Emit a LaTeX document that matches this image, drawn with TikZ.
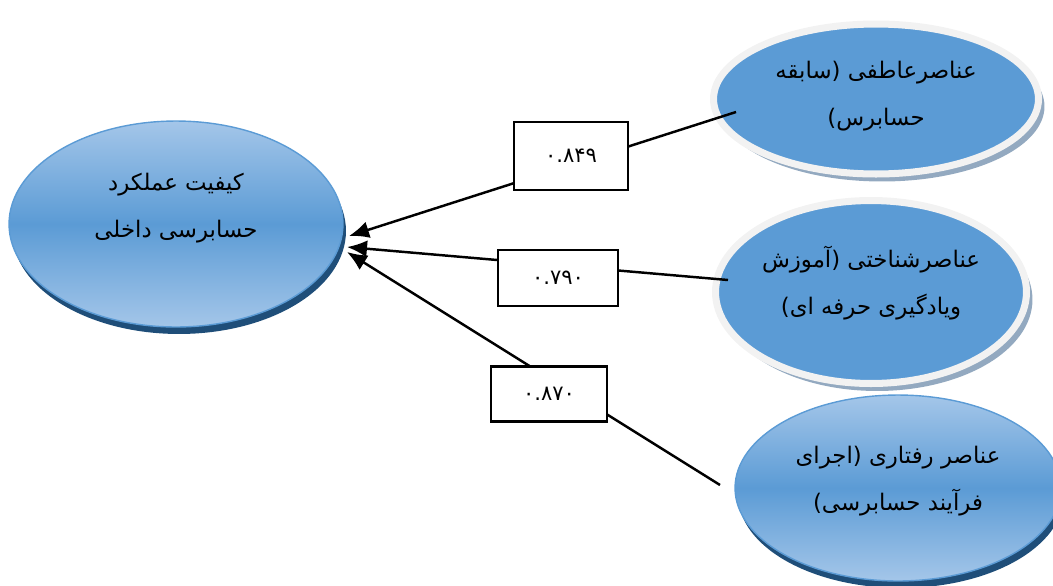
\documentclass[tikz,border=0pt]{standalone}
\usepackage{fontspec}
\usepackage{tikz}
\usetikzlibrary{shapes.geometric,arrows.meta,shadows,calc}
\TeXXeTstate=1
\newfontfamily\arabicfont[Script=Arabic]{DejaVu Sans}
\definecolor{LightBlue}{HTML}{A4C6E9}
\definecolor{MidBlue}{HTML}{5B9BD5}
\definecolor{DeepBlue}{HTML}{1F4E79}
\definecolor{RingGray}{HTML}{F2F2F2}
\definecolor{ShadeGray}{HTML}{93A9C0}

\begin{document}
\begin{tikzpicture}[x=0.02cm,y=-0.02cm,
  shaded/.style={ellipse,draw=MidBlue,line width=0.8pt,top color=LightBlue,bottom color=LightBlue,middle color=MidBlue,
    drop shadow={shadow xshift=0.06cm,shadow yshift=-0.14cm,fill=DeepBlue,opacity=1}},
  ringed/.style={ellipse,draw=RingGray,line width=4pt,fill=MidBlue,
    drop shadow={shadow xshift=0.12cm,shadow yshift=-0.15cm,fill=ShadeGray,opacity=1}},
  fa/.style={font=\arabicfont\fontsize{13}{27}\selectfont,align=center},
  valbox/.style={draw=black,line width=1.4pt,fill=white,font=\arabicfont\fontsize{12}{14}\selectfont},
  link/.style={line width=1.4pt,color=black,-{Latex[length=4mm,width=3.4mm]}}]
\clip (0,0) rectangle (1053,585);
%ellipses
\node[shaded,minimum width=6.68cm,minimum height=4.12cm] (quality) at (176,224) {};
\node[ringed,minimum width=6.5cm,minimum height=3cm] (emo) at (876,99) {};
\node[ringed,minimum width=6.22cm,minimum height=3.66cm] (cog) at (871,292) {};
\node[shaded,minimum width=6.52cm,minimum height=3.72cm] (beh) at (898,488) {};
\node[fa] (qualitytxt) at (176,208) {\beginR کیفیت عملکرد\endR\\\beginR حسابرسی داخلی\endR};
\node[fa] (emotxt) at (876,96) {\beginR عناصرعاطفی (سابقه\endR\\\beginR حسابرس)\endR};
\node[fa] (cogtxt) at (871,283) {\beginR عناصرشناختی (آموزش\endR\\\beginR ویادگیری حرفه ای)\endR};
\node[fa] (behtxt) at (898,481) {\beginR عناصر رفتاری (اجرای\endR\\\beginR فرآیند حسابرسی)\endR};
%paths
\draw[link] ($(emo)+(-140,13)$) -- ($(quality)+(173,12)$);
\draw[link] ($(cog)+(-143,-12)$) -- ($(quality)+(171,23)$);
\draw[link] ($(beh)+(-178,-3)$) -- ($(quality)+(171,28)$);
%loadings
\node[valbox,minimum width=2.28cm,minimum height=1.36cm] (val1) at (571,156) {۰.۸۴۹};
\node[valbox,minimum width=2.4cm,minimum height=1.12cm] (val2) at (558,278) {۰.۷۹۰};
\node[valbox,minimum width=2.32cm,minimum height=1.1cm] (val3) at (549,394) {۰.۸۷۰};
\end{tikzpicture}
\end{document}
